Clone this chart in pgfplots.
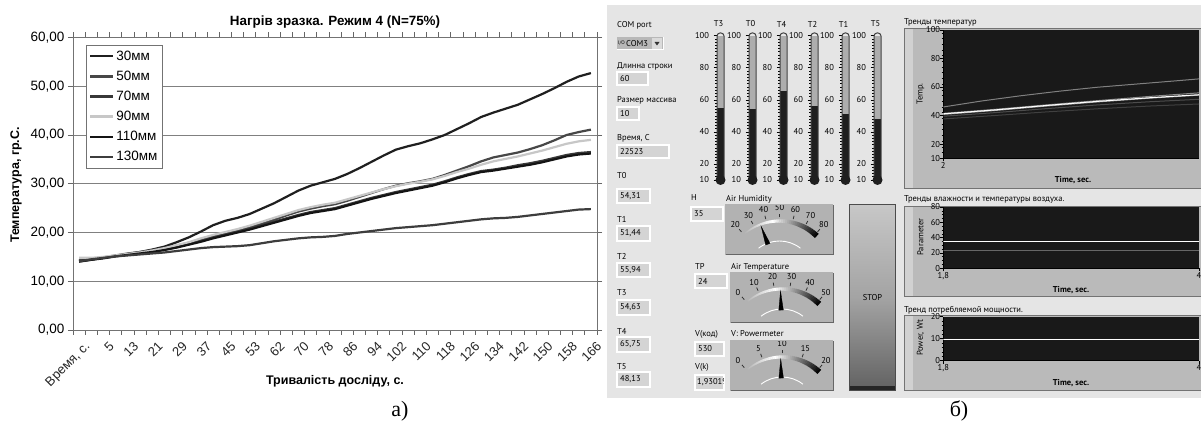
\documentclass[border=0pt]{standalone}
\usepackage{fontspec}
\setmainfont{Liberation Sans}
\newfontfamily\gui{PT Sans}
\newfontfamily\tms{Liberation Serif}
\usepackage{pgfplots}
\usepackage{pgfplotstable}
\pgfplotsset{compat=1.18}
\usepgfplotslibrary{polar}
\pgfplotsset{/pgf/number format/assume math mode=true}

\newcommand{\fs}[1]{\fontsize{#1}{#1}\selectfont}

% heating curves: category index, then one column per depth
\pgfplotstableread{
i  a    b    c    d    e    f
0  14.2 14.3 14.8 14.0 14.1 14.1
1  14.5 14.6 14.8 14.4 14.4 14.5
2  14.8 14.9 15.0 14.8 14.7 14.8
3  15.2 15.3 15.3 15.2 15.1 15.1
4  15.6 15.7 15.6 15.5 15.4 15.3
5  16.0 16.0 15.9 15.8 15.7 15.5
6  16.5 16.4 16.3 16.1 16.0 15.7
7  17.1 16.8 16.8 16.5 16.4 15.9
8  18.0 17.3 17.4 17.0 16.9 16.2
9  19.0 17.9 18.0 17.6 17.5 16.5
10 20.2 18.6 18.8 18.3 18.1 16.8
11 21.5 19.3 19.5 19.0 18.8 17.0
12 22.4 19.9 20.1 19.6 19.4 17.1
13 23.0 20.4 20.7 20.2 20.0 17.2
14 23.8 21.1 21.4 20.8 20.6 17.4
15 24.9 21.8 22.2 21.5 21.3 17.8
16 26.0 22.6 23.0 22.2 22.0 18.2
17 27.3 23.5 23.8 22.9 22.7 18.5
18 28.6 24.3 24.6 23.6 23.4 18.8
19 29.6 24.9 25.2 24.2 24.0 19.0
20 30.3 25.4 25.7 24.6 24.4 19.1
21 31.0 25.8 26.1 25.0 24.8 19.3
22 32.0 26.5 26.8 25.7 25.5 19.7
23 33.2 27.3 27.5 26.4 26.2 20.0
24 34.5 28.1 28.2 27.1 26.9 20.3
25 35.8 28.9 28.9 27.7 27.5 20.6
26 37.0 29.6 29.5 28.3 28.1 20.9
27 37.7 30.1 30.0 28.8 28.6 21.1
28 38.3 30.5 30.4 29.3 29.1 21.3
29 39.1 31.0 30.9 29.8 29.6 21.5
30 40.0 31.8 31.6 30.5 30.3 21.8
31 41.2 32.7 32.4 31.3 31.1 22.1
32 42.4 33.6 33.1 32.0 31.8 22.4
33 43.7 34.6 33.9 32.6 32.4 22.7
34 44.6 35.4 34.6 32.9 32.7 22.9
35 45.4 35.9 35.1 33.3 33.1 23.0
36 46.2 36.4 35.6 33.8 33.5 23.2
37 47.3 37.1 36.2 34.2 33.9 23.5
38 48.4 37.9 36.8 34.7 34.4 23.8
39 49.6 38.9 37.5 35.3 35.0 24.1
40 50.9 40.0 38.2 35.9 35.6 24.4
41 52.0 40.6 38.7 36.3 36.0 24.7
42 52.7 41.1 39.0 36.5 36.2 24.8
}\heating

% readings shown on the dials
\def\valH{35}
\def\valTP{24}
\def\valP{9.65}
\pgfmathsetmacro\nH{90+(50-\valH)*1.38}
\pgfmathsetmacro\nTP{90+(25-\valTP)*1.64}
\pgfmathsetmacro\nP{90+(10-\valP)*4.1}

% one bar thermometer: centre x, title, reading
\newcommand{\thermo}[3]{%
  \begin{axis}[at={(#1pt-3.5pt,247pt)}, anchor=south west, scale only axis,
    width=7pt, height=144.3pt, xmin=0, xmax=1, ymin=10, ymax=100,
    axis x line=none, axis y line*=left, y axis line style={draw=none},
    ytick={10,20,40,60,80,100}, minor ytick={12,14,...,98},
    tick align=outside, major tick length=3.5pt, minor tick length=2pt,
    tick style={black, line width=0.6pt},
    yticklabel style={font=\gui\fs{8.5}, xshift=-1pt},
    axis background/.style={fill=black!32}]
    \addplot[draw=none, fill=black!88] coordinates {(0,#3) (1,#3)} \closedcycle;
  \end{axis}
  \draw[black!75, line width=1pt, rounded corners=3pt] (#1-3.5,246) rectangle (#1+3.5,394);
  \fill[black!88] (#1,247) circle (5pt);
  \node[font=\gui\fs{8.5}] at (#1-2,403) {#2};
}

% dial face: left, top, right, pivot x, list of angle/label
\newcommand{\gaugeface}[5]{%
  \begin{scope}
    \path[clip] (#1,427-#2-50) rectangle (#3,427-#2);
    \fill[black!30] (#1,427-#2-50) rectangle (#3,427-#2);
    \begin{scope}[shift={(#4,427-#2-70)}]
      \foreach \k in {0,...,40} {
        \pgfmathsetmacro\a{131.4-\k*2.07}
        \pgfmathsetmacro\c{\k<16 ? 30*(1-\k/16) : (\k-16)*4.1}
        \pgfmathsetmacro\w{1.2+\k*0.11}
        \draw[black!\c, line width=\w pt] (\a:54) arc[start angle=\a, end angle=\a-2.3, radius=54];
      }
      \draw[white, line width=0.9pt] (128:34) arc[start angle=128, end angle=52, radius=34];
      \foreach \a/\t in {#5} {
        \draw[black!80, line width=0.8pt] (\a:57.5) -- (\a:61);
        \node[font=\gui\fs{8.5}] at (\a:67) {\t};
      }
    \end{scope}
  \end{scope}
  \draw[black!30, line width=1pt] (#1,427-#2-50) -- (#1,427-#2) -- (#3,427-#2);
  \draw[black!60, line width=1pt] (#1,427-#2-50) -- (#3,427-#2-50) -- (#3,427-#2);
}

% needle of a dial, in polar data: left, top, width, xmin, xmax, angle
\newcommand{\needle}[6]{%
  \pgfmathsetmacro\na{#6+4}\pgfmathsetmacro\nb{#6-4}
  \begin{axis}[at={(#1pt,377pt-#2pt)}, anchor=south west, scale only axis,
    width=#3pt, height=50pt, xmin=#4, xmax=#5, ymin=20, ymax=70, hide axis, clip=true]
    \addplot[fill=black, draw=black, line width=0.3pt, data cs=polar]
      coordinates {(#6,52) (\na,33) (\nb,33)} -- cycle;
  \end{axis}
}

\tikzset{box/.style={fill=black!17, draw=white, line width=1.3pt},
  lab/.style={anchor=west, font=\gui\fs{8.5}, inner sep=0pt}}

% shared look of the three trend graphs
\pgfplotsset{trend/.style={anchor=south west, scale only axis, width=255.7pt,
  axis background/.style={fill=black!90},
  axis lines*=left, axis line style={black, line width=0.6pt, -},
  tick align=outside, major tick length=3pt, minor tick length=1.8pt,
  tick style={black, line width=0.6pt},
  ticklabel style={font=\gui\fs{8.5}},
  yticklabel style={inner sep=1pt, xshift=1pt},
  xticklabel style={inner sep=1pt}, clip=true}}

\begin{document}
\begin{tikzpicture}[x=1pt,y=1pt]
\useasboundingbox (0,0) rectangle (1201,427);
\fill[white] (0,0) rectangle (1201,427);

% ---------- heating of the sample ----------
\begin{axis}[at={(73pt,97pt)}, anchor=south west, scale only axis,
  width=524pt, height=292.5pt,
  xmin=-0.5, xmax=42.5, ymin=0, ymax=60,
  axis line style={black!55, line width=0.8pt},
  ytick={0,10,...,60},
  yticklabels={{0,00},{10,00},{20,00},{30,00},{40,00},{50,00},{60,00}},
  ymajorgrids, major grid style={black!50, line width=0.7pt},
  xtick={0,2,...,42},
  xticklabels={{Время, с.},5,13,21,29,37,45,53,62,70,78,86,94,102,110,118,126,134,142,150,158,166},
  minor xtick={-0.5,0.5,...,42.5}, minor ytick={0,10,...,60},
  tick align=outside, major tick length=0pt, minor tick length=5pt,
  minor tick style={black!60, line width=0.7pt},
  yticklabel style={font=\fs{13.5}, xshift=-5pt},
  xticklabel style={font=\fs{13}, text=black!85, rotate=45, anchor=north east, inner sep=1pt, yshift=-10pt, xshift=-3pt},
  legend style={at={(axis description cs:0.0242,0.974)}, anchor=north west,
    draw=black!55, fill=white, font=\fs{13.5}, inner xsep=3pt, inner ysep=2.5pt,
    row sep=3.2pt, nodes={inner ysep=3pt}},
  legend cell align=left,
  legend image code/.code={\draw[#1, line width=2.4pt] (0pt,0pt) -- (23pt,0pt);},
  every axis plot/.append style={line width=2.2pt}]
  \addplot[black!88] table[x=i, y=a] {\heating};
  \addlegendentry{30мм}
  \addplot[black!72] table[x=i, y=b] {\heating};
  \addlegendentry{50мм}
  \addplot[black!78] table[x=i, y=d] {\heating};
  \addlegendentry{70мм}
  \addplot[black!22] table[x=i, y=c] {\heating};
  \addlegendentry{90мм}
  \addplot[black!92] table[x=i, y=e] {\heating};
  \addlegendentry{110мм}
  \addplot[black!76] table[x=i, y=f] {\heating};
  \addlegendentry{130мм}
\end{axis}

\begin{scope}[yshift=427pt, yscale=-1]
  \node[font=\bfseries\fs{13.4}] at (335,22) {Нагрів зразка. Режим 4 (N=75\%)};
  \node[font=\bfseries\fs{12.5}, rotate=90] at (16,185) {Температура, гр.С.};
  \node[font=\bfseries\fs{12.5}] at (335,381) {Тривалість досліду, с.};
  \node[font=\tms\fs{22}] at (400,411) {а)};
  \node[font=\tms\fs{22}] at (959,411) {б)};

  % ---------- front panel ----------
  \fill[black!10] (607,5) rectangle (1201,398);

  \node[lab] at (617,25) {COM port};
  \fill[black!28] (617,37) rectangle (663,50);
  \draw[white, line width=1pt] (617,50) -- (663,50) -- (663,37);
  \node[font=\gui\fs{5}, inner sep=0pt] at (621.5,43.5) {I/O};
  \node[lab] at (626,43.5) {COM3};
  \fill[black!14] (652,38.5) rectangle (662,49);
  \fill[black!80] (654.5,42) -- (659.5,42) -- (657,45.5) -- cycle;

  \node[lab] at (617,66) {Длинна строки};
  \draw[box] (617,72) rectangle (648,85);  \node[lab] at (620,78.5) {60};
  \node[lab] at (617,100) {Размер массива};
  \draw[box] (617,107) rectangle (639,120); \node[lab] at (620,113.5) {10};
  \node[lab] at (617,138) {Время, С};
  \draw[box] (617,145) rectangle (669,158); \node[lab] at (620,151.5) {22523};

  \node[lab] at (617,176) {T0};
  \draw[box] (617,189) rectangle (650,203); \node[lab] at (620,196) {54,31};
  \node[lab] at (617,219) {T1};
  \draw[box] (617,226) rectangle (650,241); \node[lab] at (620,233.5) {51,44};
  \node[lab] at (617,256) {T2};
  \draw[box] (617,263) rectangle (650,277); \node[lab] at (620,270) {55,94};
  \node[lab] at (617,293) {T3};
  \draw[box] (617,300) rectangle (650,315); \node[lab] at (620,307.5) {54,63};
  \node[lab] at (617,331) {T4};
  \draw[box] (617,337) rectangle (650,352); \node[lab] at (620,344.5) {65,75};
  \node[lab] at (617,367) {T5};
  \draw[box] (617,372) rectangle (650,387); \node[lab] at (620,379.5) {48,13};

  \node[lab] at (691,198) {H};
  \draw[box] (691,207) rectangle (723,221); \node[lab] at (694,214) {35};
  \node[lab] at (726,199) {Air Humidity};
  \node[lab] at (695,266) {TP};
  \draw[box] (695,274) rectangle (727,288); \node[lab] at (698,281) {24};
  \node[lab] at (731,267) {Air Temperature};
  \node[lab] at (695,334) {V(код)};
  \draw[box] (695,342) rectangle (724,356); \node[lab] at (698,349) {530};
  \node[lab] at (695,367) {V(k)};
  \begin{scope}
    \draw[box] (695,375) rectangle (724,390);
    \clip (695,375) rectangle (723,390);
    \node[lab] at (697,382.5) {1,93019};
  \end{scope}
  \node[lab] at (731,334) {V: Powermeter};

  % trend frames
  \node[lab] at (904,22.7) {Тренды температур};
  \fill[black!27] (904,28) rectangle (1201,188);
  \fill[black!18] (904,28) rectangle (913,188);
  \node[lab] at (904,199.3) {Тренды влажности и температуры воздуха.};
  \fill[black!27] (904,206.7) rectangle (1201,296.7);
  \fill[black!18] (904,206.7) rectangle (913,296.7);
  \node[lab] at (904,310) {Тренд потребляемой мощности.};
  \fill[black!27] (904,315) rectangle (1201,390.7);
  \fill[black!18] (904,315) rectangle (913,390.7);
  \draw[black!55] (904,28) rectangle (1201,188);
  \draw[black!55] (904,206.7) rectangle (1201,296.7);
  \draw[black!55] (904,315) rectangle (1201,390.7);

  \node[font=\gui\fs{8.5}, rotate=90] at (920.5,94) {Temp.};
  \node[font=\gui\fs{8.5}, rotate=90] at (920.5,237) {Parameter};
  \node[font=\gui\fs{8.5}, rotate=90] at (920.5,338) {Power, Wt};
  \node[font=\gui\bfseries\fs{8.5}] at (1073,180) {Time, sec.};
  \node[font=\gui\bfseries\fs{8.5}] at (1071,290.5) {Time, sec.};
  \node[font=\gui\bfseries\fs{8.5}] at (1071,383) {Time, sec.};
\end{scope}

% STOP button
\shade[top color=black!22, bottom color=black!62, middle color=black!36] (849.3,36) rectangle (895.7,222);
\fill[black!85] (849.3,36) rectangle (895.7,41);
\draw[black!70, line width=1pt] (849.3,36) rectangle (895.7,222);
\node[font=\gui\fs{8.5}] at (872.5,129) {STOP};

% thermometers
\thermo{720.5}{T3}{54.63}
\thermo{752.5}{T0}{54.31}
\thermo{783.5}{T4}{65.75}
\thermo{814.5}{T2}{55.94}
\thermo{845.5}{T1}{51.44}
\thermo{877.5}{T5}{48.13}

% dials
\gaugeface{725.7}{205}{833.3}{779.5}{131.4/20,117.6/30,103.8/40,90/50,76.2/60,62.4/70,48.6/80}
\needle{725.7}{205}{107.6}{-53.8}{53.8}{\nH}
\gaugeface{730.7}{273}{833.3}{782}{131/0,114.6/10,98.2/20,81.8/30,65.4/40,49/50}
\needle{730.7}{273}{102.6}{-51.3}{51.3}{\nTP}
\gaugeface{730.7}{341}{833.3}{782}{131/0,110.5/5,90/10,69.5/15,49/20}
\needle{730.7}{341}{102.6}{-51.3}{51.3}{\nP}

% temperature trends
\begin{axis}[trend, at={(943.3pt,268.7pt)}, height=128.3pt,
  xmin=2, xmax=4, ymin=10, ymax=100,
  xtick={2}, xticklabels={2}, ytick={10,20,40,60,80,100}, minor ytick={14,18,...,98}]
  \addplot[black!50, line width=1pt] coordinates {(2,46.0) (2.3,50.2) (2.6,53.8) (2.9,57.0) (3.2,59.8) (3.5,62.0) (3.8,64.2) (4,65.7)};
  \addplot[black!45, line width=1pt] coordinates {(2,41.5) (2.4,44.3) (2.8,47.4) (3.2,50.4) (3.6,53.3) (4,55.9)};
  \addplot[black!35, line width=1pt] coordinates {(2,40.8) (2.4,43.5) (2.8,46.6) (3.2,49.5) (3.6,52.1) (4,54.3)};
  \addplot[white, line width=1pt] coordinates {(2,41.2) (2.4,43.9) (2.8,47.0) (3.2,49.9) (3.6,52.4) (4,54.6)};
  \addplot[black!70, line width=1pt] coordinates {(2,39.5) (2.4,42.0) (2.8,44.8) (3.2,47.4) (3.6,49.6) (4,51.4)};
  \addplot[black!75, line width=1pt] coordinates {(2,37.6) (2.4,40.0) (2.8,42.5) (3.2,44.7) (3.6,46.6) (4,48.1)};
\end{axis}

% humidity and air temperature trends
\begin{axis}[trend, at={(943.3pt,158.7pt)}, height=61.3pt,
  xmin=1.8, xmax=4, ymin=0, ymax=80,
  xtick={1.8,4}, xticklabels={{1,8},4}, ytick={0,20,...,80}, minor ytick={5,10,...,75}]
  \addplot[white, line width=0.8pt] coordinates {(1.8,35) (4,35)};
  \addplot[black!60, line width=0.8pt] coordinates {(1.8,24) (4,24)};
\end{axis}

% consumed power trend
\begin{axis}[trend, at={(943.3pt,66.3pt)}, height=44pt,
  xmin=1.8, xmax=4, ymin=0, ymax=20,
  xtick={1.8,4}, xticklabels={{1,8},4}, ytick={0,10,20}, minor ytick={2,4,...,18}]
  \addplot[white, line width=1pt] coordinates {(1.8,9.65) (4,9.65)};
\end{axis}
\end{tikzpicture}
\end{document}
